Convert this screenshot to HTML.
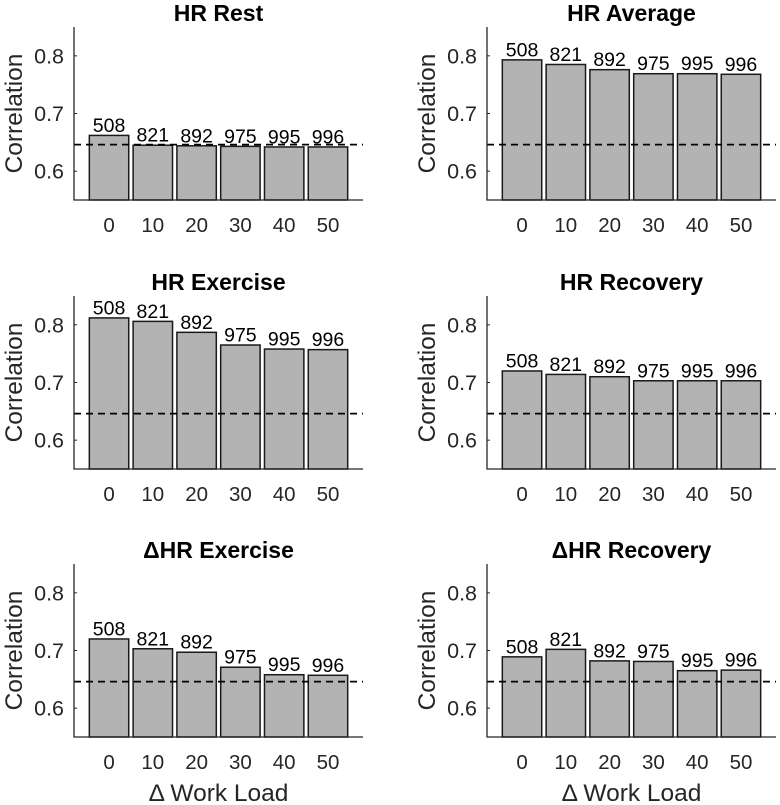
<!DOCTYPE html>
<html><head><meta charset="utf-8"><style>
html,body{margin:0;padding:0;background:#fff;}
svg{display:block;font-family:"Liberation Sans",sans-serif;}
</style></head><body>
<svg id="chart" width="780" height="805" viewBox="0 0 780 805"></svg>
<script>
const titles = ["HR Rest","HR Average","HR Exercise","HR Recovery","\u0394HR Exercise","\u0394HR Recovery"];
const categories = ["0","10","20","30","40","50"];
const counts = ["508","821","892","975","995","996"];
const valuesHRRest = [0.662,0.645,0.644,0.643,0.642,0.642];
const valuesHRAverage = [0.793,0.785,0.776,0.769,0.769,0.768];
const valuesHRExercise = [0.812,0.806,0.787,0.765,0.758,0.757];
const valuesHRRecovery = [0.720,0.714,0.710,0.703,0.703,0.703];
const valuesDHRExercise = [0.720,0.703,0.697,0.671,0.658,0.657];
const valuesDHRRecovery = [0.689,0.702,0.682,0.681,0.665,0.666];
const baseline = 0.646;
const yTicks = [0.6,0.7,0.8];
const yTickLabels = ["0.6","0.7","0.8"];
const yMin = 0.55, yMax = 0.85;

const allValues = [valuesHRRest,valuesHRAverage,valuesHRExercise,valuesHRRecovery,valuesDHRExercise,valuesDHRRecovery];
const svg = document.getElementById('chart');
const NS = 'http://www.w3.org/2000/svg';
function mk(tag, attrs, parent){const e=document.createElementNS(NS,tag);for(const k in attrs)e.setAttribute(k,attrs[k]);(parent||svg).appendChild(e);return e;}

const lefts=[74,487], tops=[27,296,564], W=289, H=173;
allValues.forEach((vals,i)=>{
  const L=lefts[i%2], T=tops[Math.floor(i/2)], B=T+H;
  const g=mk('g',{});
  
  
  const x=v=>L+(v+0.8)/6.6*W;
  const y=v=>B-(v-yMin)/(yMax-yMin)*H;
  const step=W/6.6, bw=step*0.9;
  vals.forEach((v,j)=>{
    const r=mk('rect',{x:x(j)-bw/2,y:y(v),width:bw,height:B-y(v),fill:'#b3b3b3',stroke:'#1a1a1a','stroke-width':1.5},g);
    
    
    const t=mk('text',{x:x(j),y:y(v)-3.5,'text-anchor':'middle','font-size':19.5,fill:'#000'},g);
    t.textContent=counts[j];
    
    
    const xt=mk('text',{x:x(j),y:B+32,'text-anchor':'middle','font-size':20.5,fill:'#262626'},g);
    xt.textContent=categories[j];
    
    
  });
  const d=mk('line',{x1:L,x2:L+W,y1:y(baseline),y2:y(baseline),stroke:'#000','stroke-width':1.8,'stroke-dasharray':'7,5'},g);
  
  
  const ax=mk('path',{d:`M${L},${T} L${L},${B} L${L+W},${B}`,fill:'none',stroke:'#262626','stroke-width':1.3},g);
  
  
  yTicks.forEach((tv,k)=>{
    mk('line',{x1:L,x2:L+3,y1:y(tv),y2:y(tv),stroke:'#262626','stroke-width':1},g);
    const yt=mk('text',{x:L-10,y:y(tv)+7.5,'text-anchor':'end','font-size':21.5,fill:'#262626'},g);
    yt.textContent=yTickLabels[k];
    
    
  });
  const tt=mk('text',{x:L+W/2,y:T-6,'text-anchor':'middle','font-size':23,'font-weight':'bold',fill:'#000'},g);
  tt.textContent=titles[i];
  
  
  const yl=mk('text',{x:0,y:0,'text-anchor':'middle','font-size':24.5,fill:'#262626',transform:`translate(${L-52},${T+H/2}) rotate(-90)`},g);
  yl.textContent='Correlation';
  
  
  if(Math.floor(i/2)===2){
    const xl=mk('text',{x:L+W/2,y:B+64,'text-anchor':'middle','font-size':24.5,fill:'#262626'},g);
    xl.textContent='\u0394 Work Load';
    
    
  }
});
</script>
</body></html>
